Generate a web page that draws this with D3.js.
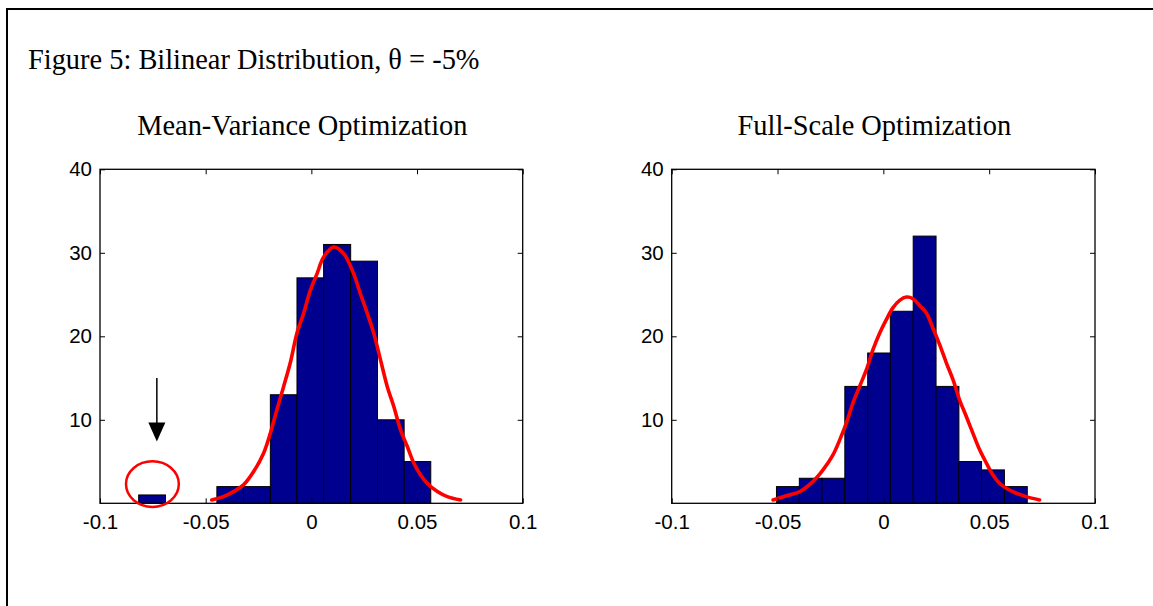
<!DOCTYPE html>
<html>
<head>
<meta charset="utf-8">
<script src="https://cdn.jsdelivr.net/npm/d3@7"></script>
<style>
  html, body { margin: 0; padding: 0; background: #fff; }
  svg { display: block; }
</style>
</head>
<body>
<svg id="chart" width="1153" height="606"></svg>
<script>
// ---------- DATA ----------
const figureTitle = "Figure 5: Bilinear Distribution, \u03B8 = -5%";
const panelTitles = ["Mean-Variance Optimization", "Full-Scale Optimization"];

const xTicks = [-0.1, -0.05, 0, 0.05, 0.1];
const xTickLabels = ["-0.1", "-0.05", "0", "0.05", "0.1"];
const yTicks = [10, 20, 30, 40];
const yTickLabels = ["10", "20", "30", "40"];

// Mean-Variance histogram (bin edges and counts)
const mvBinEdges = [-0.0817, -0.0690, -0.0564, -0.0447, -0.0321, -0.0194, -0.0068, 0.0058, 0.0186, 0.0313, 0.0439, 0.0565];
const mvCounts   = [1, 0, 0, 2, 2, 13, 27, 31, 29, 10, 5];

// Full-Scale histogram
const fsBinEdges = [-0.0505, -0.0397, -0.0290, -0.0182, -0.0074, 0.0033, 0.0141, 0.0249, 0.0357, 0.0464, 0.0572, 0.0680];
const fsCounts   = [2, 3, 3, 14, 18, 23, 32, 14, 5, 4, 2];

// Fitted density curves (red)
const mvCurveX = [-0.0471, -0.0416, -0.0368, -0.0321, -0.0273, -0.0226, -0.0194, -0.0163, -0.0131, -0.0100, -0.0068, -0.0036, -0.0005, 0.0027, 0.0058, 0.0106, 0.0153, 0.0200, 0.0232, 0.0264, 0.0295, 0.0327, 0.0359, 0.0390, 0.0422, 0.0454, 0.0485, 0.0517, 0.0548, 0.0596, 0.0643, 0.0706];
const mvCurveY = [0.4, 0.8, 1.4, 2.2, 3.8, 6.0, 8.4, 11.2, 14.0, 16.8, 20.4, 22.8, 25.5, 27.5, 29.5, 30.7, 29.9, 27.5, 25.1, 22.8, 20.4, 17.2, 14.0, 11.6, 8.8, 6.8, 4.8, 3.4, 2.4, 1.4, 0.8, 0.4];

const fsCurveX = [-0.0521, -0.0458, -0.0395, -0.0333, -0.0285, -0.0238, -0.0206, -0.0175, -0.0144, -0.0112, -0.0080, -0.0049, -0.0017, 0.0014, 0.0045, 0.0077, 0.0109, 0.0140, 0.0171, 0.0203, 0.0234, 0.0266, 0.0298, 0.0329, 0.0360, 0.0392, 0.0423, 0.0455, 0.0487, 0.0518, 0.0549, 0.0581, 0.0628, 0.0675, 0.0738];
const fsCurveY = [0.4, 0.9, 1.4, 2.6, 4.0, 5.8, 7.6, 9.6, 12.0, 14.0, 16.0, 18.4, 20.4, 22.0, 23.4, 24.3, 24.7, 24.5, 23.7, 22.8, 21.0, 19.0, 16.8, 14.8, 12.4, 10.4, 8.4, 6.4, 4.8, 3.4, 2.4, 1.8, 1.2, 0.8, 0.4];

// Annotation on the outlier (data units)
const arrowX = -0.0731, arrowYFrom = 15.0, arrowYTo = 7.4;
const circleX = -0.0752, circleY = 2.3, circleRX = 0.0125, circleRY = 2.73;

// ---------- LAYOUT ----------
const svg = d3.select("#chart");
const panels = [
  { left: 100, right: 522.7, edges: mvBinEdges, counts: mvCounts, cx: mvCurveX, cy: mvCurveY, title: panelTitles[0], annotate: true },
  { left: 671.7, right: 1095, edges: fsBinEdges, counts: fsCounts, cx: fsCurveX, cy: fsCurveY, title: panelTitles[1], annotate: false }
];
const plotTop = 169.3, plotBottom = 503.3;
const tickLen = 5;
const serif = "'Liberation Serif', 'Times New Roman', serif";
const sans = "'Liberation Sans', Arial, sans-serif";

// Page frame (top and left rules)
svg.append("line").attr("x1", 7).attr("x2", 1153).attr("y1", 9).attr("y2", 9)
  .attr("stroke", "#000").attr("stroke-width", 2);
svg.append("line").attr("x1", 7).attr("x2", 7).attr("y1", 8).attr("y2", 606)
  .attr("stroke", "#000").attr("stroke-width", 2);

svg.append("text").attr("x", 28).attr("y", 69)
  .attr("font-family", serif).attr("font-size", 28.4).attr("fill", "#000")
  .text(figureTitle);

panels.forEach(p => {
  const x = d3.scaleLinear().domain([-0.1, 0.1]).range([p.left, p.right]);
  const y = d3.scaleLinear().domain([0, 40]).range([plotBottom, plotTop]);
  const g = svg.append("g");

  // panel title
  g.append("text").attr("x", (p.left + p.right) / 2 - 9).attr("y", 135)
    .attr("text-anchor", "middle").attr("font-family", serif).attr("font-size", 28.4)
    .attr("fill", "#000").text(p.title);

  // bars
  const bins = p.counts.map((c, i) => ({ x0: p.edges[i], x1: p.edges[i + 1], c }));
  g.selectAll("rect.bar").data(bins.filter(d => d.c > 0)).join("rect")
    .attr("class", "bar")
    .attr("x", d => x(d.x0))
    .attr("width", d => x(d.x1) - x(d.x0))
    .attr("y", d => y(d.c))
    .attr("height", d => y(0) - y(d.c))
    .attr("fill", "#00008F").attr("stroke", "#000").attr("stroke-width", 1);

  // red curve
  const pts = p.cx.map((v, i) => [v, p.cy[i]]);
  g.append("path").datum(pts)
    .attr("d", d3.line().x(d => x(d[0])).y(d => y(d[1])).curve(d3.curveCatmullRom))
    .attr("fill", "none").attr("stroke", "#FF0000").attr("stroke-width", 3.6)
    .attr("stroke-linecap", "round").attr("stroke-linejoin", "round");

  // axes box with inward ticks
  const axB = d3.axisBottom(x).tickValues(xTicks).tickSize(-tickLen).tickPadding(11)
    .tickFormat((d, i) => xTickLabels[i]);
  const axT = d3.axisTop(x).tickValues(xTicks).tickSize(-tickLen).tickFormat("");
  const axL = d3.axisLeft(y).tickValues(yTicks).tickSize(-tickLen).tickPadding(8)
    .tickFormat((d, i) => yTickLabels[i]);
  const axR = d3.axisRight(y).tickValues(yTicks).tickSize(-tickLen).tickFormat("");

  const styleAxis = sel => {
    sel.select(".domain").remove();
    sel.selectAll("line").attr("stroke", "#000").attr("stroke-width", 1);
    sel.selectAll("text").attr("font-family", sans).attr("font-size", 20.5).attr("fill", "#000");
  };
  g.append("g").attr("transform", `translate(0,${plotBottom})`).call(axB).call(styleAxis);
  g.append("g").attr("transform", `translate(0,${plotTop})`).call(axT).call(styleAxis);
  g.append("g").attr("transform", `translate(${p.left},0)`).call(axL).call(styleAxis);
  g.append("g").attr("transform", `translate(${p.right},0)`).call(axR).call(styleAxis);

  g.append("rect").attr("x", p.left).attr("y", plotTop)
    .attr("width", p.right - p.left).attr("height", plotBottom - plotTop)
    .attr("fill", "none").attr("stroke", "#000").attr("stroke-width", 1.3);

  if (p.annotate) {
    const ax = x(arrowX), ay0 = y(arrowYFrom), ay1 = y(arrowYTo);
    g.append("line").attr("x1", ax).attr("x2", ax).attr("y1", ay0).attr("y2", ay1 - 16)
      .attr("stroke", "#000").attr("stroke-width", 1.5);
    g.append("path")
      .attr("d", `M${ax - 8.5},${ay1 - 19} L${ax + 8.5},${ay1 - 19} L${ax},${ay1} Z`)
      .attr("fill", "#000");
    const ex = x(circleX), ey = y(circleY);
    g.append("ellipse").attr("cx", ex).attr("cy", ey)
      .attr("rx", x(circleX + circleRX) - ex).attr("ry", ey - y(circleY + circleRY))
      .attr("fill", "none").attr("stroke", "#FF0000").attr("stroke-width", 2.5);
  }
});
</script>
</body>
</html>
